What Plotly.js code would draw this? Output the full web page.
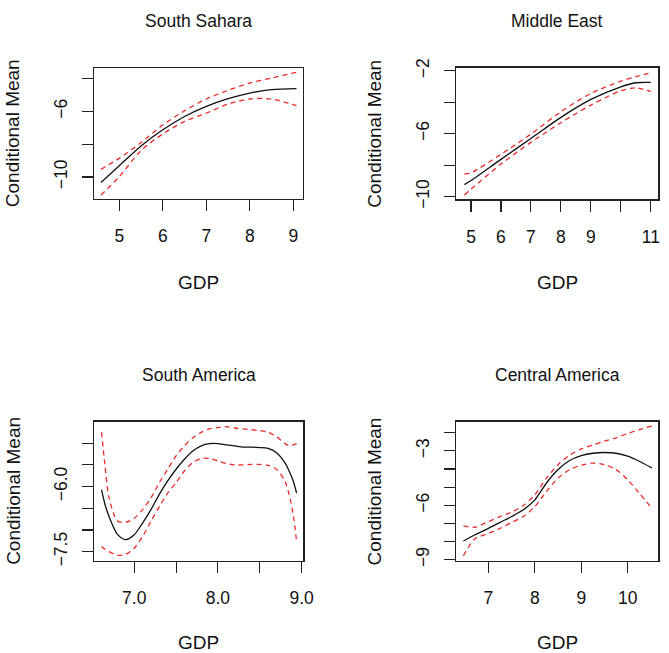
<!DOCTYPE html>
<html>
<head>
<meta charset="utf-8">
<script src="https://cdn.plot.ly/plotly-3.0.1.min.js"></script>
<style>
  html, body { margin: 0; padding: 0; background: #fff; }
  #chart { width: 669px; height: 653px; }
</style>
</head>
<body>
<div id="chart"></div>
<script>
// Conditional mean of the outcome against log GDP, with pointwise bands, by region.

// South Sahara
const ssGdp   = [4.58, 5.0, 5.5, 6.0, 6.5, 7.0, 7.5, 8.0, 8.5, 9.07];
const ssFit   = [-10.33, -9.31, -8.10, -7.12, -6.31, -5.69, -5.22, -4.88, -4.67, -4.61];
const ssUpper = [-9.53, -8.86, -7.90, -6.82, -5.96, -5.24, -4.71, -4.27, -3.96, -3.61];
const ssLower = [-11.10, -9.98, -8.39, -7.37, -6.61, -6.10, -5.55, -5.24, -5.24, -5.65];

// Middle East
const meGdp   = [4.78, 5.0, 6.0, 7.0, 8.0, 9.0, 10.0, 10.5, 11.0];
const meFit   = [-9.24, -8.98, -7.63, -6.30, -4.96, -3.82, -3.02, -2.76, -2.74];
const meUpper = [-8.56, -8.48, -7.31, -6.02, -4.60, -3.44, -2.66, -2.38, -2.13];
const meLower = [-9.89, -9.53, -7.93, -6.55, -5.30, -4.18, -3.27, -3.08, -3.33];

// South America
const saGdp   = [6.61, 6.65, 6.7, 6.8, 6.9, 7.0, 7.1, 7.2, 7.3, 7.4, 7.5, 7.6, 7.7, 7.8, 7.9, 8.0,
                 8.1, 8.2, 8.3, 8.4, 8.5, 8.6, 8.7, 8.8, 8.85, 8.9, 8.94];
const saFit   = [-6.07, -6.40, -6.69, -7.10, -7.22, -7.11, -6.84, -6.53, -6.18, -5.87, -5.60, -5.37, -5.18, -5.06, -5.01, -5.01,
                 -5.04, -5.06, -5.09, -5.09, -5.10, -5.12, -5.22, -5.45, -5.64, -5.87, -6.15];
const saUpper = [-4.75, -5.49, -6.26, -6.79, -6.82, -6.73, -6.53, -6.26, -5.91, -5.60, -5.29, -5.06, -4.88, -4.75, -4.67, -4.64,
                 -4.62, -4.65, -4.67, -4.69, -4.71, -4.75, -4.85, -5.01, -5.06, -5.04, -5.01];
const saLower = [-7.38, -7.44, -7.50, -7.58, -7.56, -7.42, -7.15, -6.80, -6.46, -6.15, -5.91, -5.64, -5.45, -5.35, -5.35, -5.41,
                 -5.47, -5.50, -5.50, -5.49, -5.49, -5.51, -5.60, -5.87, -6.18, -6.65, -7.27];

// Central America
const caGdp   = [6.46, 6.7, 7.0, 7.25, 7.5, 7.75, 8.0, 8.25, 8.5, 8.75, 9.0, 9.25, 9.5, 9.75, 10.0, 10.25, 10.52];
const caFit   = [-7.97, -7.64, -7.27, -6.94, -6.62, -6.25, -5.70, -4.77, -4.03, -3.53, -3.26, -3.13, -3.09, -3.13, -3.29, -3.57, -3.94];
const caUpper = [-7.14, -7.21, -6.90, -6.62, -6.38, -6.01, -5.42, -4.50, -3.76, -3.24, -2.89, -2.68, -2.46, -2.28, -2.04, -1.83, -1.63];
const caLower = [-8.78, -7.86, -7.55, -7.27, -6.94, -6.62, -6.07, -5.23, -4.50, -4.03, -3.79, -3.68, -3.76, -4.03, -4.59, -5.33, -6.16];

// Panel titles and axis tick labels
const panelTitles = ['South Sahara', 'Middle East', 'South America', 'Central America'];
const xTickVals = [[5, 6, 7, 8, 9], [5, 6, 7, 8, 9, 10, 11], [7.0, 7.5, 8.0, 8.5, 9.0], [7, 8, 9, 10]];
const xTickText = [['5', '6', '7', '8', '9'], ['5', '6', '7', '8', '9', '', '11'], ['7.0', '', '8.0', '', '9.0'], ['7', '8', '9', '10']];
const yTickVals = [[-4, -6, -8, -10], [-2, -4, -6, -8, -10], [-5.0, -5.5, -6.0, -6.5, -7.0, -7.5], [-2, -3, -4, -5, -6, -7, -8, -9]];
const yTickText = [['', '\u22126', '', '\u221210'], ['\u22122', '', '\u22126', '', '\u221210'],
                   ['', '', '\u22126.0', '', '', '\u22127.5'], ['', '\u22123', '', '', '\u22126', '', '', '\u22129']];

const panels = [
  { x: ssGdp, fit: ssFit, up: ssUpper, lo: ssLower },
  { x: meGdp, fit: meFit, up: meUpper, lo: meLower },
  { x: saGdp, fit: saFit, up: saUpper, lo: saLower },
  { x: caGdp, fit: caFit, up: caUpper, lo: caLower }
];

const xRanges = [[4.42, 9.22], [4.5, 11.25], [6.52, 9.02], [6.30, 10.66]];
const yRanges = [[-11.34, -3.35], [-10.17, -1.79], [-7.71, -4.5], [-9.06, -1.38]];

const W = 669, H = 653;
// plot boxes in pixels: [left, right, top, bottom]
const boxes = [
  [94, 303, 68, 199],
  [456, 658.3, 67.5, 199.3],
  [94, 303.3, 421.5, 560.8],
  [456, 658.3, 421.5, 560.8]
];

const FONT = 'Liberation Sans, Arial, Helvetica, sans-serif';
const fitLine = { color: '#111', width: 1.3, shape: 'spline', smoothing: 0.8 };
const bandLine = { color: '#ec2a2a', width: 1.3, dash: '5px,4px', shape: 'spline', smoothing: 0.8 };

const traces = [];
const layout = {
  width: W, height: H,
  margin: { l: 0, r: 0, t: 0, b: 0 },
  paper_bgcolor: '#fff', plot_bgcolor: '#fff',
  showlegend: false,
  font: { family: FONT, color: '#111' },
  annotations: []
};

panels.forEach((p, i) => {
  const n = i + 1;
  const xa = n === 1 ? 'x' : 'x' + n;
  const ya = n === 1 ? 'y' : 'y' + n;
  [[p.up, bandLine], [p.lo, bandLine], [p.fit, fitLine]].forEach(([ys, line]) => {
    traces.push({ type: 'scatter', mode: 'lines', x: p.x, y: ys, xaxis: xa, yaxis: ya, line: line, hoverinfo: 'skip' });
  });

  const b = boxes[i];
  const common = {
    showgrid: false, zeroline: false, showline: true, mirror: true,
    linecolor: '#222', linewidth: 1.2,
    ticks: 'outside', ticklen: 11, tickwidth: 1.1, tickcolor: '#222',
    tickfont: { family: FONT, size: 17.5, color: '#111' },
    tickmode: 'array', fixedrange: true
  };
  layout['xaxis' + (n === 1 ? '' : n)] = Object.assign({}, common, {
    domain: [b[0] / W, b[1] / W], anchor: ya, range: xRanges[i],
    tickvals: xTickVals[i], ticktext: xTickText[i], ticklabelstandoff: 10
  });
  layout['yaxis' + (n === 1 ? '' : n)] = Object.assign({}, common, {
    domain: [1 - b[3] / H, 1 - b[2] / H], anchor: xa, range: yRanges[i],
    tickvals: yTickVals[i], ticktext: yTickText[i], tickangle: -90, ticklabelstandoff: 8
  });

  const cx = (b[0] + b[1]) / 2, cy = (b[2] + b[3]) / 2;
  const titleY = i < 2 ? 20.7 : 375;
  const gdpY = i < 2 ? 282.7 : 642.7;
  const ylabX = i % 2 === 0 ? 12.7 : 374.3;
  layout.annotations.push(
    { text: panelTitles[i], xref: 'paper', yref: 'paper', x: cx / W, y: 1 - titleY / H,
      xanchor: 'center', yanchor: 'middle', showarrow: false, font: { family: FONT, size: 17.5, color: '#111' } },
    { text: 'GDP', xref: 'paper', yref: 'paper', x: cx / W, y: 1 - gdpY / H,
      xanchor: 'center', yanchor: 'middle', showarrow: false, font: { family: FONT, size: 19, color: '#111' } },
    { text: 'Conditional Mean', xref: 'paper', yref: 'paper', x: ylabX / W, y: 1 - cy / H, textangle: -90,
      xanchor: 'center', yanchor: 'middle', showarrow: false, font: { family: FONT, size: 19, color: '#111' } }
  );
});

Plotly.newPlot('chart', traces, layout, { displayModeBar: false, staticPlot: true });
</script>
</body>
</html>
